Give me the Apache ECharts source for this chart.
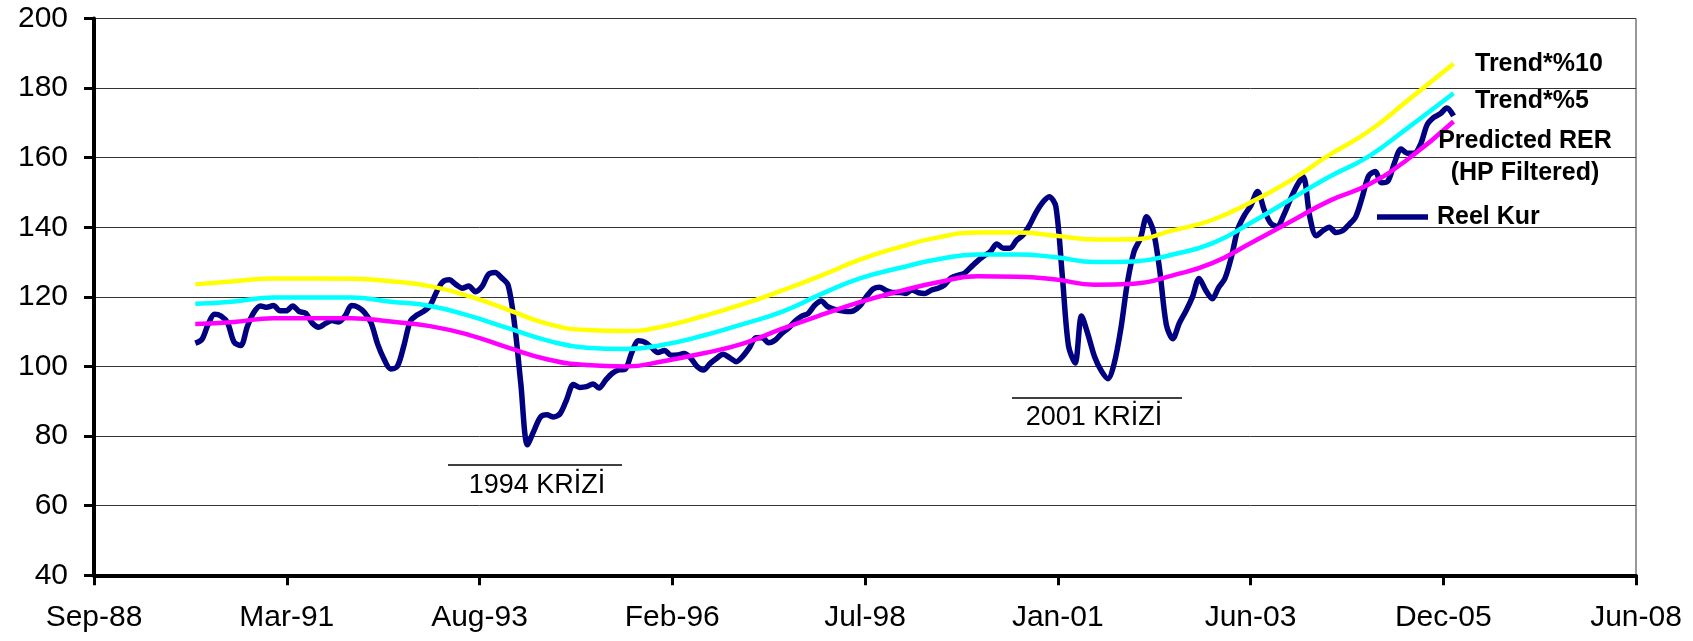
<!DOCTYPE html>
<html>
<head>
<meta charset="utf-8">
<script src="https://cdn.jsdelivr.net/npm/echarts@6/dist/echarts.min.js"></script>
<style>
html,body{margin:0;padding:0;background:#fff;}
#chart{width:1693px;height:641px;}
</style>
</head>
<body>
<div id="chart"></div>
<script>
// ---------- DATA ----------
const xTickLabels = ['Sep-88','Mar-91','Aug-93','Feb-96','Jul-98','Jan-01','Jun-03','Dec-05','Jun-08'];
const yTicks = [40, 60, 80, 100, 120, 140, 160, 180, 200];

const reelKurStart = '1990-01';
const reelKur = [
  106.7, 107.8, 112, 115, 114.5, 112.5, 107, 106, 111.5, 115.5, 117.4, 117,          // 1990
  117.5, 116, 116, 117.4, 115.8, 115.3, 112.5, 111.3, 112.4, 113.2, 112.8, 114.5,    // 1991
  117.5, 117, 115.5, 112.5, 106.5, 102, 99.3, 100, 106, 113, 114.8, 115.8,           // 1992
  117.5, 121.5, 124.3, 124.9, 123.6, 122.5, 123.1, 121.5, 123, 126.5, 127, 125.5,    // 1993
  123.3, 111.5, 95, 77.5, 81.5, 85.5, 86.1, 85.5, 86.5, 90.5, 94.8, 94,              // 1994
  94.2, 95, 93.8, 96.1, 98, 99, 99.2, 104, 107.4, 107, 105.5, 104,                   // 1995
  104.6, 103.2, 103.3, 103.7, 102.5, 100, 99, 100.9, 102.4, 103.5, 102.5, 101.4,     // 1996
  103, 105.5, 108.2, 108.3, 106.8, 107.6, 109.5, 111, 113, 114.4, 115.2, 117.5,      // 1997
  118.8, 117.2, 116.5, 116.1, 115.8, 116, 117.4, 120.1, 122.3, 122.8, 121.8, 121.3,  // 1998
  121.3, 121, 122, 121.2, 121, 122, 122.5, 123.5, 125.5, 126.2, 126.8, 128.5,        // 1999
  130.3, 131.8, 133, 135.2, 134, 134, 136.2, 137.8, 140.7, 144.3, 147.2, 148.8,      // 2000
  146, 125.5, 106, 101, 114.5, 109, 102.8, 98.8, 96.5, 101, 111, 124,                // 2001
  133, 137, 143, 139, 127.7, 112, 108, 112.5, 116, 120, 125.3, 122,                  // 2002
  119.5, 122.8, 125.2, 131.5, 139.5, 143.5, 146.3, 150.3, 145, 141.2, 140.2, 143.5,  // 2003
  148, 152, 154.5, 143, 137.6, 139, 140, 138.5, 139, 140.8, 143, 148.5,              // 2004
  154.8, 156, 152.8, 153.3, 158.5, 162.5, 161.3, 161.3, 164, 169.5, 171.6, 172.6,    // 2005
  174.3, 172                                                                         // 2006
];

const trendMonths = ['1990-01','1990-07','1991-01','1991-07','1992-01','1992-07','1993-01','1993-07',
  '1994-01','1994-07','1995-01','1995-07','1996-01','1996-07','1997-01','1997-07','1998-01','1998-07',
  '1999-01','1999-07','2000-01','2000-07','2001-01','2001-07','2002-01','2002-07','2003-01','2003-07',
  '2004-01','2004-07','2005-01','2005-07','2006-02'];
const trend10 = [123.6, 124.5, 125.3, 125.3, 125.2, 124.5, 123.1, 120.2, 116.3, 112.3, 110.5, 110.2,
  111.6, 114.5, 117.9, 121.8, 126.1, 130.7, 134.3, 137.1, 138.5, 138.5, 137.6, 136.5, 136.6, 139.1,
  142.1, 147.2, 153.4, 160.8, 167.6, 176.4, 187];
const trend5 = [118, 118.7, 119.8, 119.8, 119.8, 118.6, 117.4, 114.6, 111, 107.5, 105.4, 105,
  106.3, 108.9, 112.2, 115.7, 120.8, 125.3, 128.3, 130.8, 132.2, 132.2, 131.4, 130, 130.2, 132.2,
  135.4, 141.3, 148, 154.5, 160.4, 168.5, 178.5];
const predictedRER = [112.2, 112.8, 113.9, 113.9, 113.9, 112.9, 111.6, 109.1, 105.4, 102.1, 100.4, 100,
  101.6, 103.8, 106.6, 110.8, 114.8, 118.5, 121.6, 124.2, 125.9, 125.8, 125, 123.5, 123.8, 126.2,
  129.7, 135.5, 141.6, 147.6, 152.3, 159.5, 170.4];

// ---------- HELPERS ----------
const DAY0 = Date.UTC(1988, 8, 15);   // axis origin (Sep-88 tick)
const STEP = 900;                     // days between axis ticks
function monthToDays(ym) {
  const p = ym.split('-').map(Number);
  return (Date.UTC(p[0], p[1] - 1, 1) - DAY0) / 86400000;
}
function addMonths(ym, k) {
  const p = ym.split('-').map(Number);
  const t = p[0] * 12 + (p[1] - 1) + k;
  const y = Math.floor(t / 12), m = t % 12 + 1;
  return y + '-' + (m < 10 ? '0' + m : m);
}
const reelKurData = reelKur.map((v, i) => [monthToDays(addMonths(reelKurStart, i)), v]);
const mk = arr => arr.map((v, i) => [monthToDays(trendMonths[i]), v]);

const FONT = '"Liberation Sans", Arial, Helvetica, sans-serif';

const chart = echarts.init(document.getElementById('chart'), null, {renderer: 'canvas'});
chart.setOption({
  animation: false,
  backgroundColor: '#ffffff',
  grid: {left: 94, right: 57, top: 18.5, bottom: 65.7, show: true, borderColor: '#333', borderWidth: 1, backgroundColor: 'transparent'},
  xAxis: {
    type: 'value', min: 0, max: STEP * (xTickLabels.length - 1), interval: STEP,
    axisLine: {show: true, onZero: false, lineStyle: {color: '#000', width: 4}},
    axisTick: {show: true, length: 10, lineStyle: {color: '#000', width: 3}},
    splitLine: {show: false},
    axisLabel: {
      show: true, margin: 27, color: '#000', fontSize: 30, fontFamily: FONT,
      showMinLabel: true, showMaxLabel: true,
      formatter: v => xTickLabels[Math.round(v / STEP)] || ''
    }
  },
  yAxis: {
    type: 'value', min: yTicks[0], max: yTicks[yTicks.length - 1], interval: yTicks[1] - yTicks[0],
    axisLine: {show: true, lineStyle: {color: '#000', width: 4}},
    axisTick: {show: true, length: 10, lineStyle: {color: '#000', width: 3}},
    splitLine: {show: true, lineStyle: {color: '#333', width: 1}},
    axisLabel: {show: true, margin: 26, color: '#000', fontSize: 30, fontFamily: FONT}
  },
  series: [
    {name: 'Reel Kur', type: 'line', data: reelKurData, showSymbol: false, smooth: 0.3,
     lineStyle: {color: '#000080', width: 5.5}, itemStyle: {color: '#000080'}, z: 2},
    {name: 'Predicted RER (HP Filtered)', type: 'line', data: mk(predictedRER), showSymbol: false, smooth: 0.5,
     lineStyle: {color: '#ff00ff', width: 4.5}, itemStyle: {color: '#ff00ff'}, z: 3},
    {name: 'Trend*%5', type: 'line', data: mk(trend5), showSymbol: false, smooth: 0.5,
     lineStyle: {color: '#00ffff', width: 4.5}, itemStyle: {color: '#00ffff'}, z: 3},
    {name: 'Trend*%10', type: 'line', data: mk(trend10), showSymbol: false, smooth: 0.5,
     lineStyle: {color: '#ffff00', width: 4.5}, itemStyle: {color: '#ffff00'}, z: 3}
  ],
  graphic: [
    // legend
    {type: 'text', z: 100, style: {text: 'Trend*%10', x: 1475, y: 64, fill: '#000', font: 'bold 25px ' + FONT, align: 'left', verticalAlign: 'middle', textAlign: 'left', textVerticalAlign: 'middle'}},
    {type: 'text', z: 100, style: {text: 'Trend*%5', x: 1475, y: 101, fill: '#000', font: 'bold 25px ' + FONT, align: 'left', verticalAlign: 'middle', textAlign: 'left', textVerticalAlign: 'middle'}},
    {type: 'text', z: 100, style: {text: 'Predicted RER', x: 1525, y: 141, fill: '#000', font: 'bold 25px ' + FONT, align: 'center', verticalAlign: 'middle', textAlign: 'center', textVerticalAlign: 'middle'}},
    {type: 'text', z: 100, style: {text: '(HP Filtered)', x: 1525, y: 173, fill: '#000', font: 'bold 25px ' + FONT, align: 'center', verticalAlign: 'middle', textAlign: 'center', textVerticalAlign: 'middle'}},
    {type: 'line', z: 100, shape: {x1: 1377, y1: 217, x2: 1428, y2: 217}, style: {stroke: '#000080', lineWidth: 5.5}},
    {type: 'text', z: 100, style: {text: 'Reel Kur', x: 1437, y: 217, fill: '#000', font: 'bold 25px ' + FONT, align: 'left', verticalAlign: 'middle', textAlign: 'left', textVerticalAlign: 'middle'}},
    // crisis annotations
    {type: 'line', z: 100, shape: {x1: 448, y1: 465, x2: 622, y2: 465}, style: {stroke: '#000', lineWidth: 1.5}},
    {type: 'text', z: 100, style: {text: '1994 KRİZİ', x: 537, y: 486, fill: '#000', font: '27px ' + FONT, align: 'center', verticalAlign: 'middle', textAlign: 'center', textVerticalAlign: 'middle'}},
    {type: 'line', z: 100, shape: {x1: 1012, y1: 398, x2: 1182, y2: 398}, style: {stroke: '#000', lineWidth: 1.5}},
    {type: 'text', z: 100, style: {text: '2001 KRİZİ', x: 1094, y: 418, fill: '#000', font: '27px ' + FONT, align: 'center', verticalAlign: 'middle', textAlign: 'center', textVerticalAlign: 'middle'}}
  ]
});
</script>
</body>
</html>
